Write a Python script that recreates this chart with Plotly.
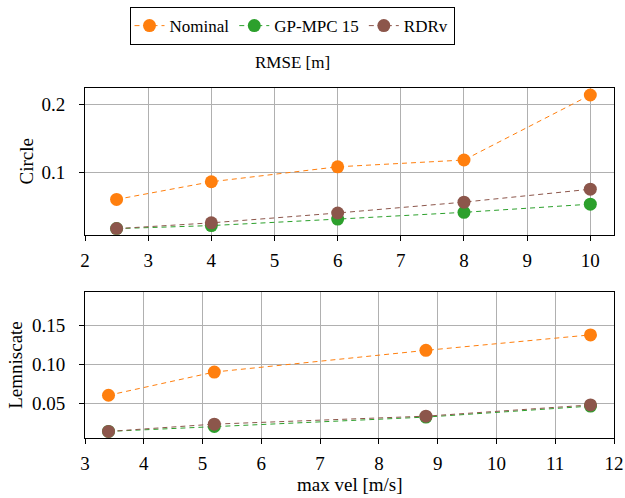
import plotly.graph_objects as go
from plotly.subplots import make_subplots

# Data
circle_vel = [2.5, 4, 6, 8, 10]
circle_nominal = [0.060, 0.086, 0.108, 0.118, 0.2137]
circle_gpmpc = [0.017, 0.0215, 0.031, 0.041, 0.053]
circle_rdrv = [0.017, 0.0255, 0.040, 0.056, 0.075]

lem_vel = [3.4, 5.2, 8.8, 11.6]
lem_nominal = [0.060, 0.090, 0.118, 0.138]
lem_gpmpc = [0.0133, 0.0197, 0.0318, 0.046]
lem_rdrv = [0.0133, 0.0227, 0.033, 0.0475]

circle_xticks = [2, 3, 4, 5, 6, 7, 8, 9, 10]
lem_xticks = [3, 4, 5, 6, 7, 8, 9, 10, 11, 12]
circle_yticks = [0.1, 0.2]
circle_yticklabels = ["0.1", "0.2"]
lem_yticks = [0.05, 0.10, 0.15]
lem_yticklabels = ["0.05", "0.10", "0.15"]

series_names = ["Nominal", "GP-MPC 15", "RDRv"]
colors = ["#ff7f0e", "#2ca02c", "#8c564b"]

FONT = "Liberation Serif"
TICK_FS = 19
LABEL_FS = 19
LEG_FS = 17

W, H = 625, 498
L, R, T, B = 85, 11, 88, 498 - 438.3
PW = W - L - R
PH = H - T - B

fig = make_subplots(rows=2, cols=1)

circle_data = [circle_nominal, circle_gpmpc, circle_rdrv]
lem_data = [lem_nominal, lem_gpmpc, lem_rdrv]

for name, col, ys in zip(series_names, colors, circle_data):
    fig.add_trace(go.Scatter(x=circle_vel, y=ys, name=name, mode="lines+markers",
                             line=dict(color=col, width=1, dash="5px,4px"),
                             marker=dict(color=col, size=13),
                             legendgroup=name, showlegend=True), row=1, col=1)
for name, col, ys in zip(series_names, colors, lem_data):
    fig.add_trace(go.Scatter(x=lem_vel, y=ys, name=name, mode="lines+markers",
                             line=dict(color=col, width=1, dash="5px,4px"),
                             marker=dict(color=col, size=13),
                             legendgroup=name, showlegend=False), row=2, col=1)

axis_common = dict(showline=True, linecolor="black", linewidth=1, mirror=True,
                   showgrid=True, gridcolor="#b0b0b0", gridwidth=1,
                   ticks="outside", ticklen=5, tickcolor="black", automargin=False,
                   zeroline=False, tickfont=dict(family=FONT, size=TICK_FS, color="black"))

fig.update_xaxes(**axis_common, ticklabelstandoff=3)
fig.update_yaxes(**axis_common, ticklabelstandoff=10)

top_lo = (438.3 - 235) / PH
bot_hi = (438.3 - 291.7) / PH
cx = (292 - L) / PW


def py(px):
    return (438.3 - px) / PH


def pxx(px):
    return (px - L) / PW


fig.update_layout(
    width=W, height=H,
    margin=dict(l=L, r=R, t=T, b=B, autoexpand=False),
    plot_bgcolor="white", paper_bgcolor="white",
    font=dict(family=FONT, size=TICK_FS, color="black"),
    xaxis=dict(domain=[0, 1], range=[2, 10.375], tickvals=circle_xticks, anchor="y"),
    yaxis=dict(domain=[top_lo, 1.0], range=[0.0078, 0.224], tickvals=circle_yticks,
               ticktext=circle_yticklabels),
    xaxis2=dict(domain=[0, 1], range=[3, 12], tickvals=lem_xticks, anchor="y2"),
    yaxis2=dict(domain=[0, bot_hi], range=[0.0048, 0.194], tickvals=lem_yticks,
                ticktext=lem_yticklabels),
    legend=dict(orientation="h", x=cx, xanchor="center",
                y=py(7), yanchor="top",
                bordercolor="black", borderwidth=1, bgcolor="white",
                font=dict(family=FONT, size=LEG_FS), itemwidth=30, tracegroupgap=0),
    annotations=[
        dict(text="RMSE [m]", x=cx, xref="paper", y=py(62), yref="paper",
             showarrow=False, font=dict(family=FONT, size=LEG_FS),
             xanchor="center", yanchor="middle"),
        dict(text="Circle", x=pxx(26), xref="paper", y=(top_lo + 1) / 2, yref="paper",
             showarrow=False, textangle=-90, font=dict(family=FONT, size=LABEL_FS),
             xanchor="center", yanchor="middle"),
        dict(text="Lemniscate", x=pxx(16), xref="paper", y=bot_hi / 2, yref="paper",
             showarrow=False, textangle=-90, font=dict(family=FONT, size=LABEL_FS),
             xanchor="center", yanchor="middle"),
        dict(text="max vel [m/s]", x=0.5, xref="paper", y=py(485), yref="paper",
             showarrow=False, font=dict(family=FONT, size=LABEL_FS),
             xanchor="center", yanchor="middle"),
    ],
)

fig.write_html("out.html", config={"displayModeBar": False},
               post_script="document.body.style.margin='0px';")
